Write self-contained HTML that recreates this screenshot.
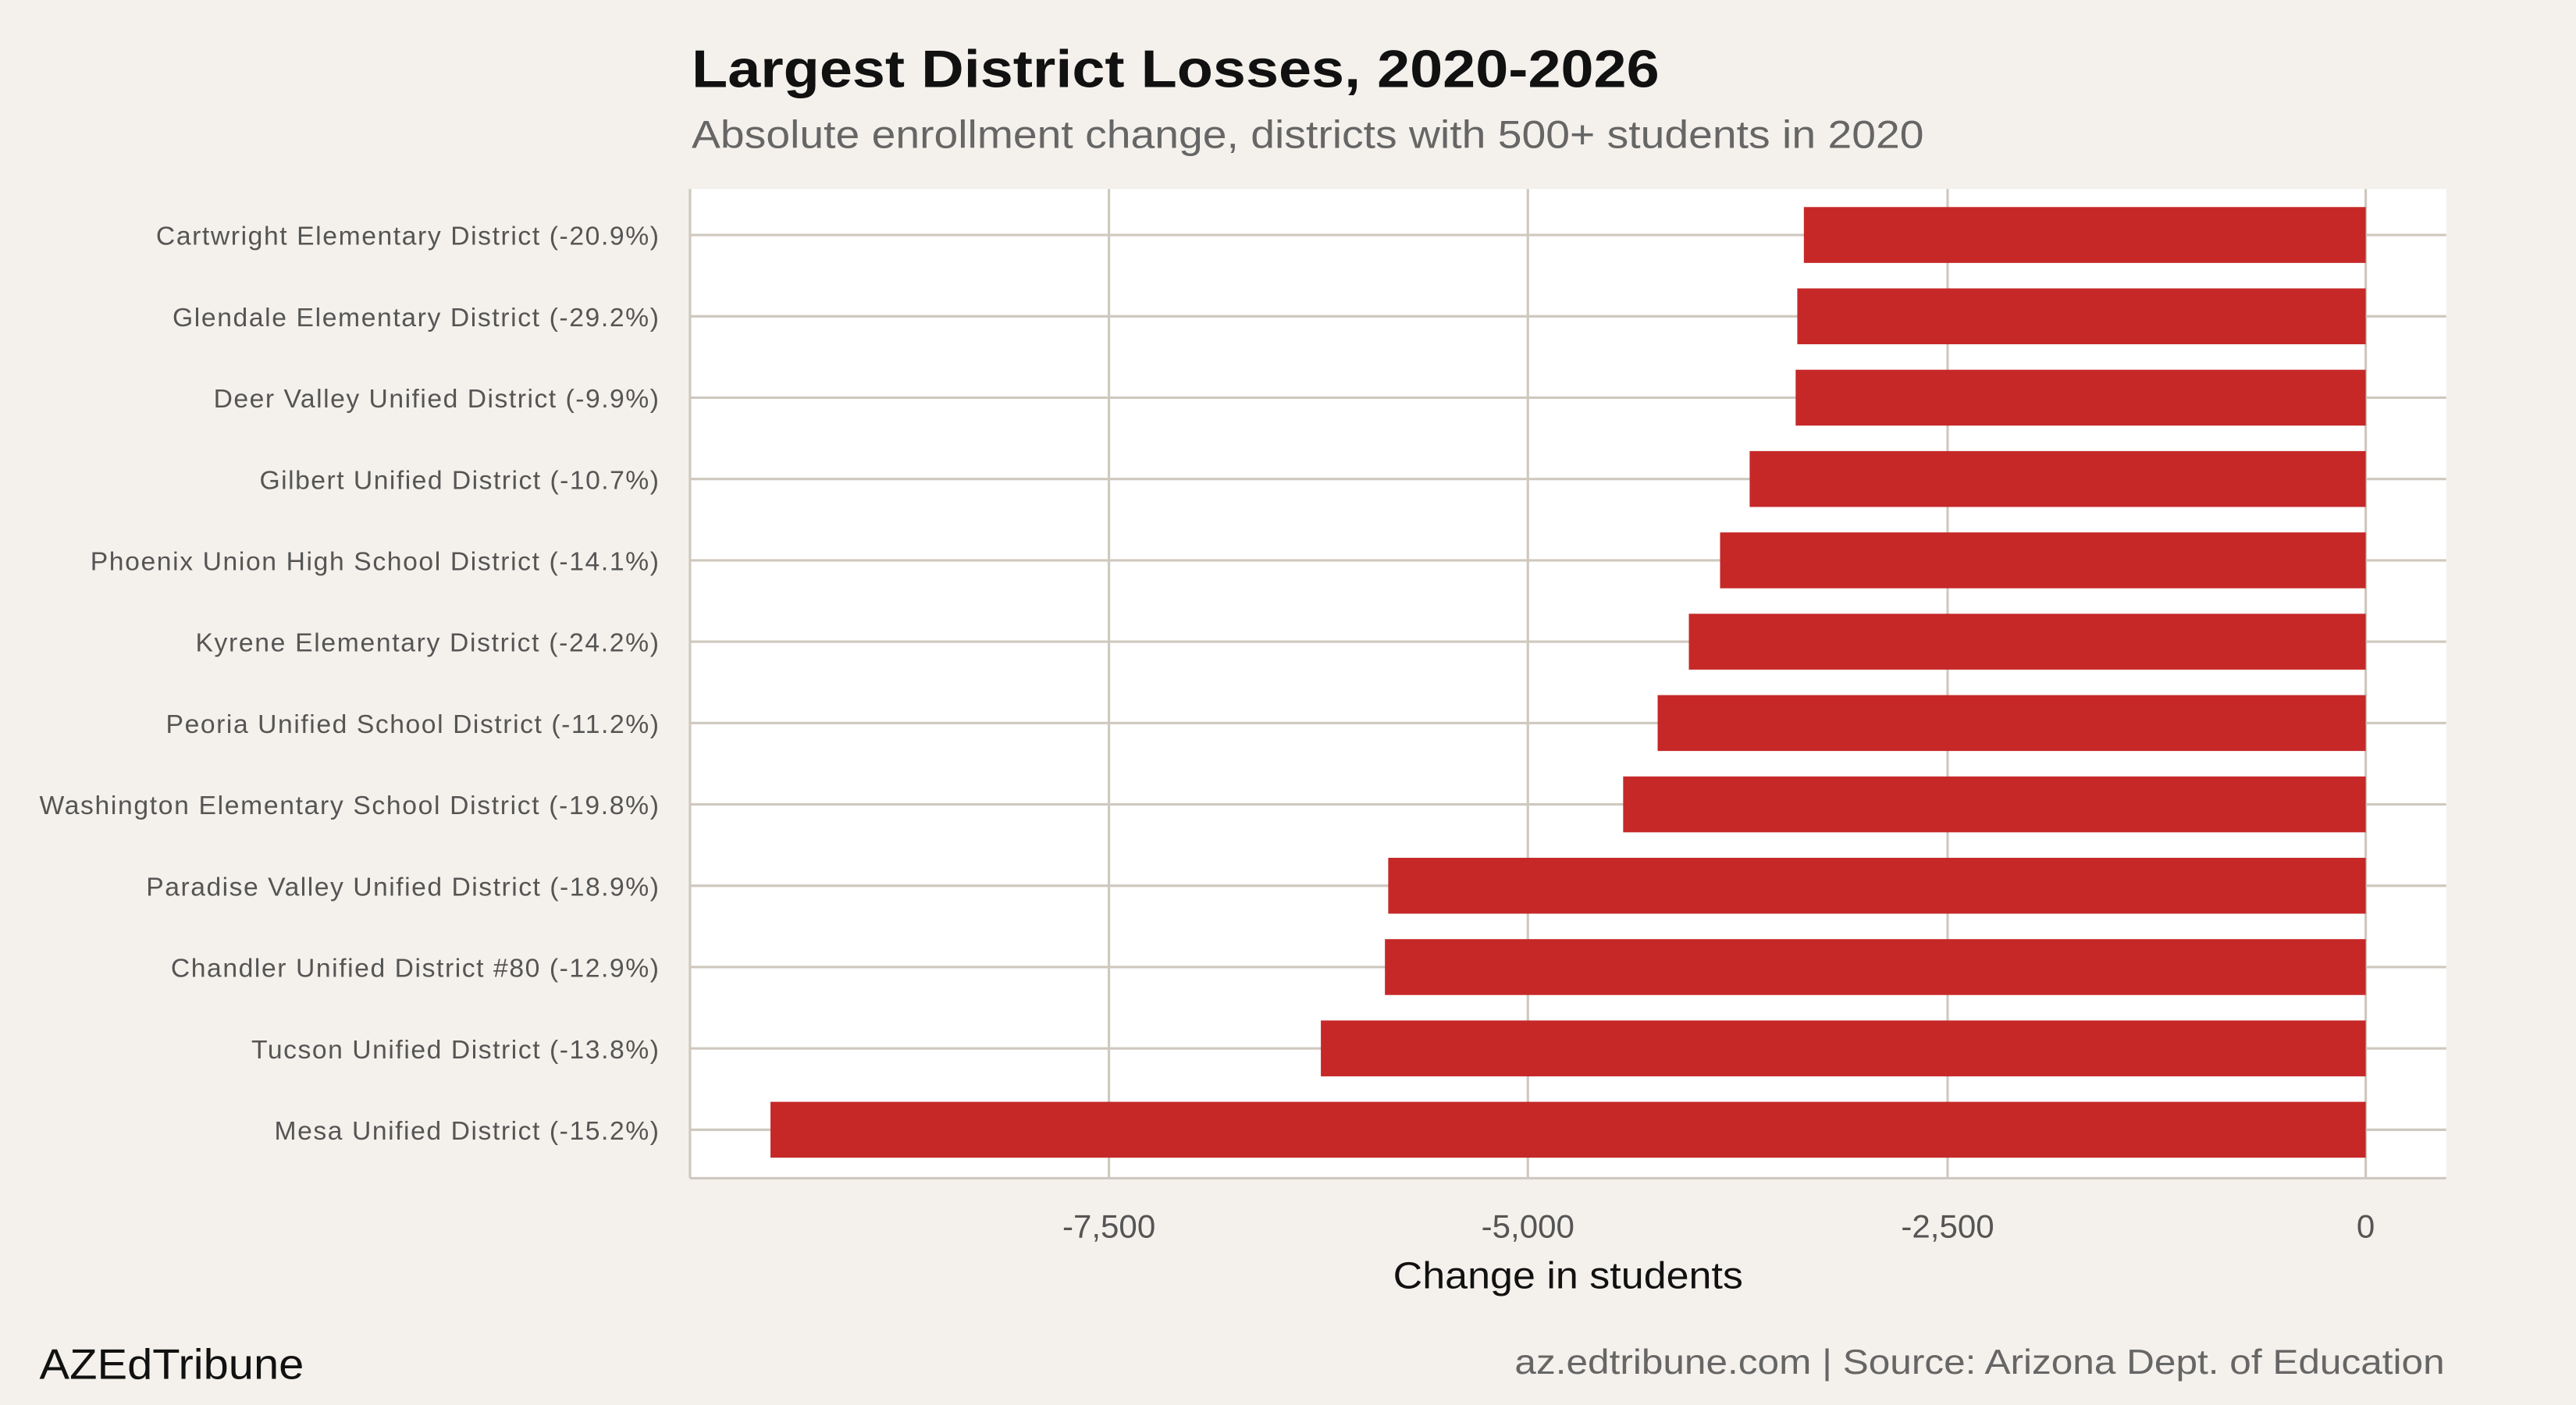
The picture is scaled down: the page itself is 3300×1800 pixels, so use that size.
<!DOCTYPE html>
<html><head><meta charset="utf-8"><style>html,body{margin:0;padding:0;background:#f4f1ec}svg{display:block}text{font-family:"Liberation Sans",sans-serif}</style></head>
<body>
<svg width="3300" height="1800" viewBox="0 0 1568 855" preserveAspectRatio="none" xmlns="http://www.w3.org/2000/svg">
<rect width="1568" height="855" fill="#f4f1ec"/>
<text x="421" y="53" font-size="32" font-weight="bold" fill="#111" textLength="589" lengthAdjust="spacingAndGlyphs">Largest District Losses, 2020-2026</text>
<text x="421" y="90" font-size="24" fill="#666" textLength="750" lengthAdjust="spacingAndGlyphs">Absolute enrollment change, districts with 500+ students in 2020</text>
<rect x="420" y="115" width="1069" height="602" fill="#fff"/>
<g stroke="#cfc8be" stroke-width="1.5">
<line x1="675" y1="115" x2="675" y2="717"/><line x1="930" y1="115" x2="930" y2="717"/><line x1="1185.5" y1="115" x2="1185.5" y2="717"/><line x1="1440" y1="115" x2="1440" y2="717"/>
<line x1="420" y1="115" x2="420" y2="717"/><line x1="420" y1="717" x2="1489" y2="717"/>
<line x1="420" y1="143" x2="1489" y2="143"/><line x1="420" y1="192.5" x2="1489" y2="192.5"/><line x1="420" y1="242" x2="1489" y2="242"/><line x1="420" y1="291.5" x2="1489" y2="291.5"/><line x1="420" y1="341" x2="1489" y2="341"/><line x1="420" y1="390.5" x2="1489" y2="390.5"/><line x1="420" y1="440" x2="1489" y2="440"/><line x1="420" y1="489.5" x2="1489" y2="489.5"/><line x1="420" y1="539" x2="1489" y2="539"/><line x1="420" y1="588.5" x2="1489" y2="588.5"/><line x1="420" y1="638" x2="1489" y2="638"/><line x1="420" y1="687.5" x2="1489" y2="687.5"/>
</g>
<g fill="#c62828">
<rect x="1098" y="126" width="342" height="34"/><rect x="1094" y="175.5" width="346" height="34"/><rect x="1093" y="225" width="347" height="34"/><rect x="1065" y="274.5" width="375" height="34"/><rect x="1047" y="324" width="393" height="34"/><rect x="1028" y="373.5" width="412" height="34"/><rect x="1009" y="423" width="431" height="34"/><rect x="988" y="472.5" width="452" height="34"/><rect x="845" y="522" width="595" height="34"/><rect x="843" y="571.5" width="597" height="34"/><rect x="804" y="621" width="636" height="34"/><rect x="469" y="670.5" width="971" height="34"/>
</g>
<g font-size="16" fill="#555" lengthAdjust="spacingAndGlyphs">
<text x="95" y="149" textLength="306">Cartwright Elementary District (-20.9%)</text>
<text x="105" y="198.5" textLength="296">Glendale Elementary District (-29.2%)</text>
<text x="130" y="248" textLength="271">Deer Valley Unified District (-9.9%)</text>
<text x="158" y="297.5" textLength="243">Gilbert Unified District (-10.7%)</text>
<text x="55" y="347" textLength="346">Phoenix Union High School District (-14.1%)</text>
<text x="119" y="396.5" textLength="282">Kyrene Elementary District (-24.2%)</text>
<text x="101" y="446" textLength="300">Peoria Unified School District (-11.2%)</text>
<text x="24" y="495.5" textLength="377">Washington Elementary School District (-19.8%)</text>
<text x="89" y="545" textLength="312">Paradise Valley Unified District (-18.9%)</text>
<text x="104" y="594.5" textLength="297">Chandler Unified District #80 (-12.9%)</text>
<text x="153" y="644" textLength="248">Tucson Unified District (-13.8%)</text>
<text x="167" y="693.5" textLength="234">Mesa Unified District (-15.2%)</text>
</g>
<g font-size="20" fill="#555" text-anchor="middle">
<text x="675" y="753">-7,500</text><text x="930" y="753">-5,000</text><text x="1185.5" y="753">-2,500</text><text x="1440" y="753">0</text>
</g>
<text x="848" y="784" font-size="23" fill="#111" textLength="213" lengthAdjust="spacingAndGlyphs">Change in students</text>
<text x="24" y="839" font-size="26" fill="#111" textLength="161" lengthAdjust="spacingAndGlyphs">AZEdTribune</text>
<text x="922" y="836" font-size="21" fill="#666" textLength="566" lengthAdjust="spacingAndGlyphs">az.edtribune.com | Source: Arizona Dept. of Education</text>
</svg>
</body></html>
